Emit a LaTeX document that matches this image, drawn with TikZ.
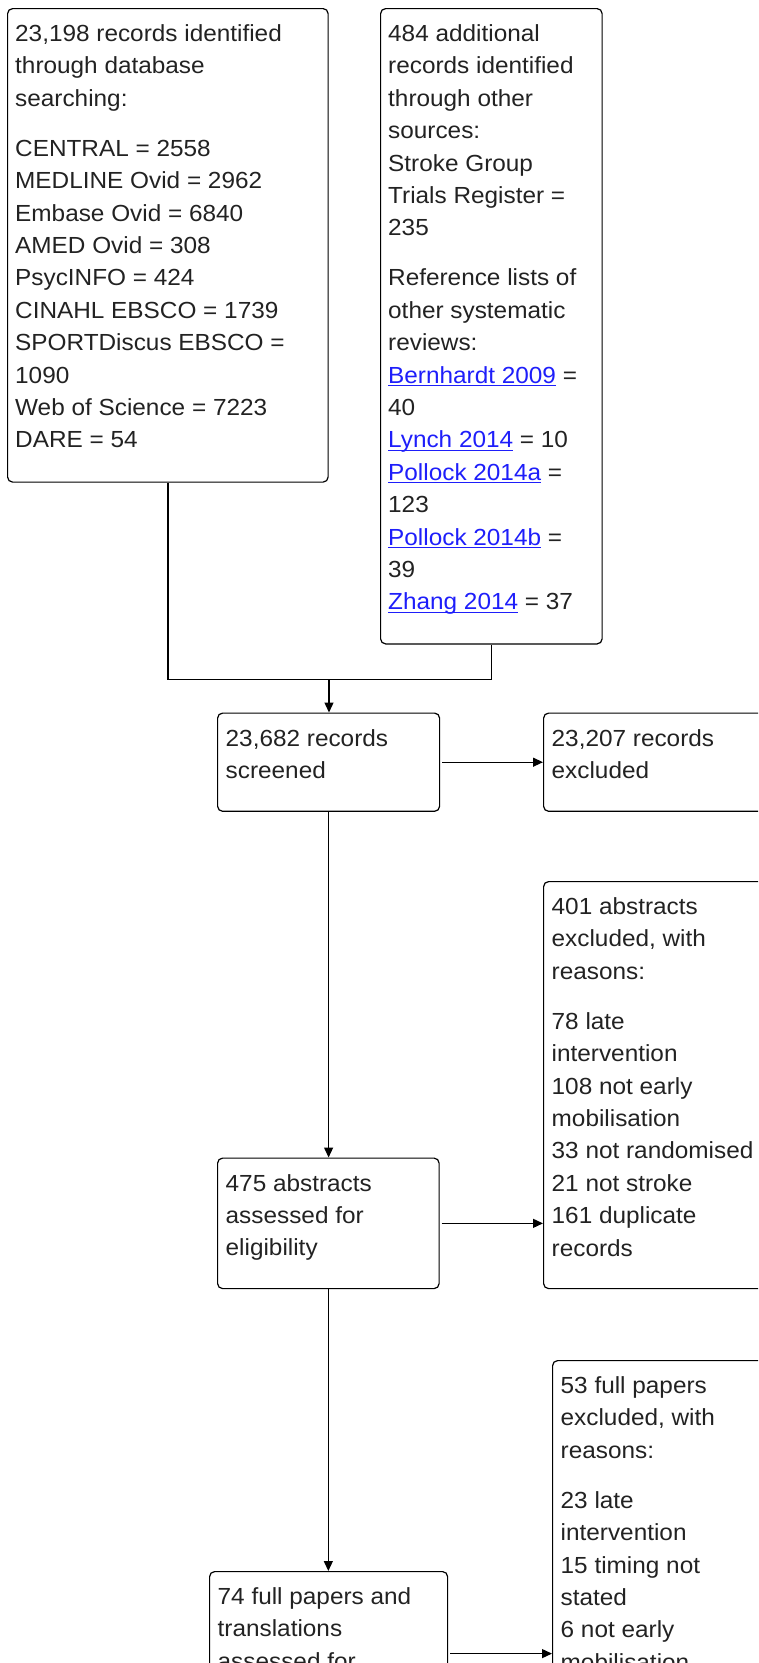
\documentclass[tikz,border=0pt]{standalone}
\usepackage{fontspec}
\setmainfont[FakeStretch=1.045]{Liberation Sans}
\usetikzlibrary{arrows.meta}
\definecolor{linkblue}{RGB}{30,30,250}
\definecolor{txtgray}{RGB}{34,34,34}
\newcommand\ulink[1]{\textcolor{linkblue}{\setbox0\hbox{#1}\rlap{\rule[-2.8pt]{\wd0}{1.1pt}}\box0}}
\newcommand\fl{\rule{0pt}{24pt}}
\tikzset{
  box/.style={draw=black, line width=1.2pt, rounded corners=5pt, inner sep=0pt, anchor=north west},
  txt/.style={anchor=north west, inner sep=0pt, align=left, text=txtgray, font=\fontsize{23.3}{32.4}\selectfont},
  conn/.style={draw=black, line width=1.3pt},
  arr/.style={conn, -{Triangle[length=10pt,width=9pt]}},
}
\begin{document}
\begin{tikzpicture}[x=1pt,y=-1pt]
\useasboundingbox (0,0) rectangle (758,1663);
\clip (0,0) rectangle (758,1663);
% boxes
\node[box, minimum width=320.5pt, minimum height=473.5pt] (b1) at (7,8) {};
\node[box, minimum width=221.5pt, minimum height=635.3pt] (b2) at (380,8) {};
\node[box, minimum width=222pt, minimum height=98.2pt] (b3) at (217,712.5) {};
\node[box, minimum width=260pt, minimum height=98.2pt] (b4) at (543,712.5) {};
\node[box, minimum width=260pt, minimum height=407pt] (b5) at (543,881) {};
\node[box, minimum width=221.5pt, minimum height=130.5pt] (b6) at (217,1157.5) {};
\node[box, minimum width=238pt, minimum height=164pt] (b7) at (209,1571) {};
\node[box, minimum width=260pt, minimum height=400pt] (b8) at (552,1360) {};
% texts
\node[txt] (t1) at (15,17.3) {\fl 23,198 records identified\\ through database\\ searching:\\[17.6pt] CENTRAL = 2558\\ MEDLINE Ovid = 2962\\ Embase Ovid = 6840\\ AMED Ovid = 308\\ PsycINFO = 424\\ CINAHL EBSCO = 1739\\ SPORTDiscus EBSCO =\\ 1090\\ Web of Science = 7223\\ DARE = 54};
\node[txt] (t2) at (388,17.3) {\fl 484 additional\\ records identified\\ through other\\ sources:\\ Stroke Group\\ Trials Register =\\ 235\\[17.6pt] Reference lists of\\ other systematic\\ reviews:\\ \ulink{Bernhardt 2009} =\\ 40\\ \ulink{Lynch 2014} = 10\\ \ulink{Pollock 2014a} =\\ 123\\ \ulink{Pollock 2014b} =\\ 39\\ \ulink{Zhang 2014} = 37};
\node[txt] (t3) at (225.5,721.8) {\fl 23,682 records\\ screened};
\node[txt] (t4) at (551.5,721.8) {\fl 23,207 records\\ excluded};
\node[txt] (t5) at (551.5,890.3) {\fl 401 abstracts\\ excluded, with\\ reasons:\\[17.6pt] 78 late\\ intervention\\ 108 not early\\ mobilisation\\ 33 not randomised\\ 21 not stroke\\ 161 duplicate\\ records};
\node[txt] (t6) at (225.5,1166.8) {\fl 475 abstracts\\ assessed for\\ eligibility};
\node[txt] (t7) at (217.5,1580.3) {\fl 74 full papers and\\ translations\\ assessed for};
\node[txt] (t8) at (560.5,1369.3) {\fl 53 full papers\\ excluded, with\\ reasons:\\[17.6pt] 23 late\\ intervention\\ 15 timing not\\ stated\\ 6 not early\\ mobilisation};
% connectors
\coordinate (j) at (329,679.3);
\draw[conn] (b1.south) -- (b1.south |- j) -- (b2.south |- j) -- (b2.south);
\draw[arr] (j) -- (j |- b3.north);
\draw[arr, shorten <=2pt] (b3.east) -- (b3.east -| b4.west);
\draw[arr] (b3.south) -- (b3.south |- b6.north);
\draw[arr, shorten <=2pt] (b6.east) -- (b6.east -| b5.west);
\draw[arr] (b6.south) -- (b6.south |- b7.north);
\draw[arr, shorten <=2pt] (b7.east) -- (b7.east -| b8.west);
\end{tikzpicture}
\end{document}
